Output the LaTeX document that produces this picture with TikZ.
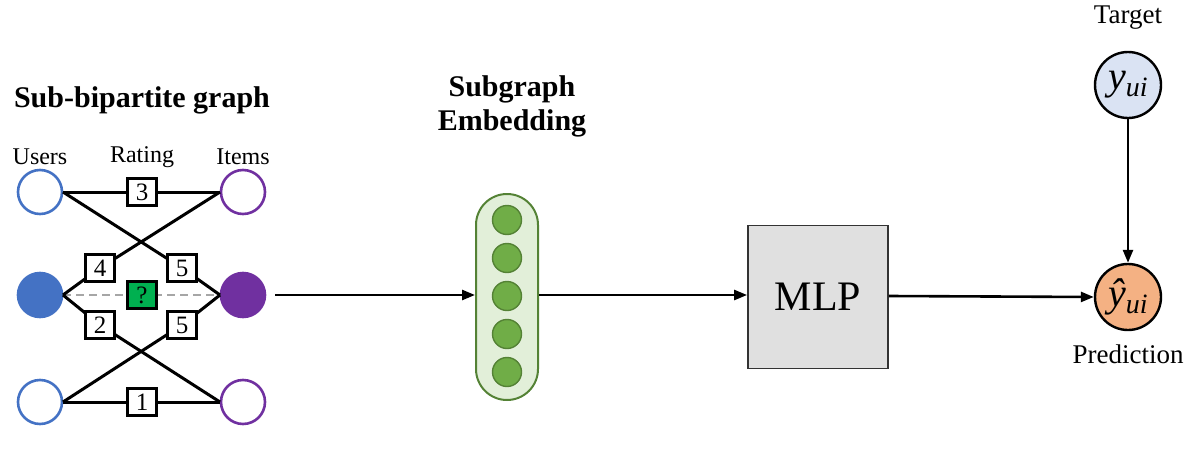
\documentclass[tikz,border=0pt]{standalone}
\usepackage{fontspec}
\setmainfont{Liberation Serif}
\usetikzlibrary{arrows.meta}
\definecolor{ublue}{HTML}{4472C4}
\definecolor{ipurp}{HTML}{7030A0}
\definecolor{lgreen}{HTML}{E2EFD9}
\definecolor{mgreen}{HTML}{70AD47}
\definecolor{dgreen}{HTML}{548235}
\definecolor{qgreen}{HTML}{00B050}
\definecolor{porange}{HTML}{F4B183}
\definecolor{tblue}{HTML}{DAE3F3}
\newcommand{\yvar}[1]{{\fontsize{40}{40}\selectfont\itshape #1}\raisebox{-7pt}{\fontsize{28}{28}\selectfont\itshape ui}}
\begin{document}
\begin{tikzpicture}[x=1pt,y=-1pt,
  unode/.style={circle,draw=ublue,line width=2.6pt,minimum size=44pt,inner sep=0pt},
  inode/.style={circle,draw=ipurp,line width=2.6pt,minimum size=44pt,inner sep=0pt},
  rbox/.style={draw=black,fill=white,line width=2.4pt,minimum width=29pt,minimum height=27pt,inner sep=0pt,font=\fontsize{25}{25}\selectfont},
  edge/.style={line width=3pt},
  lab/.style={font=\fontsize{24}{24}\selectfont},
  emb/.style={circle,fill=mgreen,draw=dgreen,line width=1.4pt,minimum size=29pt,inner sep=0pt},
  arr/.style={line width=2.6pt,-{Triangle[length=13pt,width=10pt]}},
  bignode/.style={circle,draw=black,line width=2.4pt,minimum size=66pt,inner sep=0pt}]
\useasboundingbox (0,0) rectangle (1200,450);
\node[font=\bfseries\fontsize{30}{30}\selectfont] (title) at (142,100) {Sub-bipartite graph};
\node[lab] (lu) at (40,157) {Users};
\node[lab] (lr) at (142,157) {Rating};
\node[lab] (li) at (243,157) {Items};
\node[unode] (u1) at (40,192) {};
\node[unode,fill=ublue] (u2) at (40,295) {};
\node[unode] (u3) at (40,402) {};
\node[inode] (i1) at (243,192) {};
\node[inode,fill=ipurp] (i2) at (243,295) {};
\node[inode] (i3) at (243,402) {};
\coordinate (u1e) at (63,192); \coordinate (u2e) at (63,295); \coordinate (u3e) at (63,402);
\coordinate (i1e) at (220,192); \coordinate (i2e) at (220,295); \coordinate (i3e) at (220,402);
\draw[dash pattern=on 8pt off 5pt,draw=gray!70,line width=2.6pt] (u2e) -- (i2e);
\coordinate (b3) at (142,192); \coordinate (b4) at (100,268); \coordinate (b5a) at (182,268);
\coordinate (b2) at (100,325); \coordinate (b5b) at (182,325); \coordinate (b1) at (142,402);
\draw[edge] (u1e) -- (i1e);
\draw[edge] (u3e) -- (i3e);
\draw[edge] (u1e) -- (b5a) -- (i2e);
\draw[edge] (i1e) -- (b4) -- (u2e);
\draw[edge] (u2e) -- (b2) -- (i3e);
\draw[edge] (i2e) -- (b5b) -- (u3e);
\node[rbox] (r3) at (b3) {3};
\node[rbox] (r4) at (b4) {4};
\node[rbox] (r5a) at (b5a) {5};
\node[rbox] (r2) at (b2) {2};
\node[rbox] (r5b) at (b5b) {5};
\node[rbox] (r1) at (b1) {1};
\node[rbox,fill=qgreen] (rq) at (142,295) {?};
% embedding
\node[font=\bfseries\fontsize{30}{30}\selectfont,align=center] (embt) at (512,106) {Subgraph\\[4pt]Embedding};
\node[draw=dgreen,fill=lgreen,line width=2pt,rounded corners=31pt,minimum width=62pt,minimum height=206pt] (cap) at (507,297) {};
\foreach \i/\yy in {1/220,2/258,3/296,4/334,5/372} \node[emb] (e\i) at (507,\yy) {};
\draw[arr] (275,295) -- (cap.west |- 0,295);
\node[draw=black!80,fill=black!12,line width=1.8pt,minimum width=140pt,minimum height=143pt,font=\fontsize{42}{42}\selectfont] (mlp) at (818,297) {MLP};
\draw[arr] (cap.east |- 0,295) -- (mlp.west |- 0,295);
\node[bignode,fill=porange] (pred) at (1128,297) {\yvar{ŷ}};
\node[bignode,fill=tblue] (targ) at (1128,85) {\yvar{y}};
\node[font=\fontsize{27}{27}\selectfont] (tl) at (1128,18) {Target};
\node[font=\fontsize{27}{27}\selectfont] (pl) at (1128,354) {Prediction};
\draw[arr] (mlp.east |- 0,296) -- (pred.west);
\draw[arr] (targ) -- (pred);
\end{tikzpicture}
\end{document}
